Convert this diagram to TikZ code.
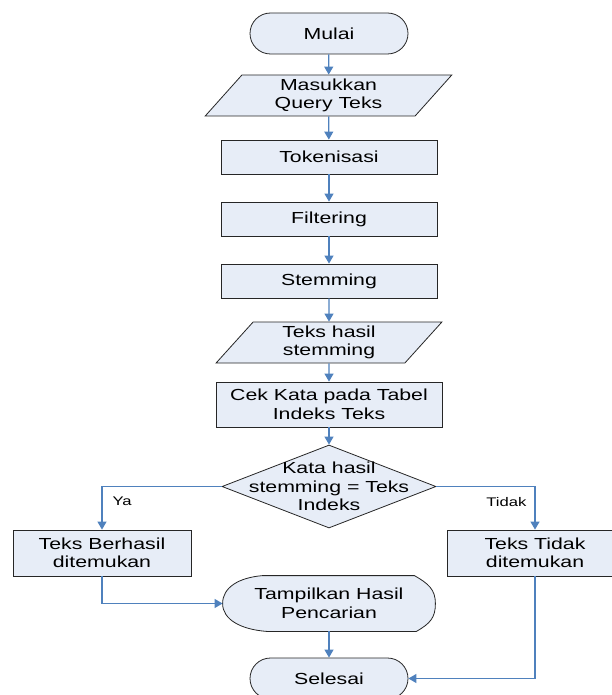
\documentclass[tikz,border=0pt]{standalone}
\usepackage{fontspec}
\setmainfont{Liberation Sans}[FakeStretch=1.33]
\usetikzlibrary{
    arrows.meta,
    shapes.geometric,
    backgrounds,
    positioning,
    calc
}
\definecolor{boxfill}{HTML}{E7EDF7}
\definecolor{flowblue}{HTML}{4F81BD}
\tikzset{%
    >={Triangle[width=9pt,length=8pt]},
    % Specifications for style of nodes:
    outline/.style = {draw=black!85, line width=0.8pt, fill=boxfill},
    base/.style = {
        outline,
        text centered, align=center, inner sep=0pt,
        font=\fontsize{16}{18.5}\selectfont
    },
    terminal/.style = {base, rectangle, rounded corners=20.5pt, minimum width=158pt, minimum height=41pt},
    process/.style = {base, rectangle, minimum width=216pt, minimum height=34pt},
    io/.style = {base, trapezium, trapezium left angle=55.7, trapezium right angle=124.3,
        trapezium stretches, minimum height=41pt},
    decision/.style = {base, diamond, minimum width=214pt, minimum height=83pt},
    link/.style = {->, draw=flowblue, line width=1.2pt},
    answer/.style = {font=\fontsize{12.5}{14}\selectfont, inner sep=0pt}
}

\begin{document}
\begin{tikzpicture}[x=1pt, y=-1pt]
    \useasboundingbox (0,0) rectangle (612,695);
    % main column
    \node[terminal] (mulai) at (329,33.5) {Mulai};
    \node[io, minimum width=247pt] (query) at (328.5,95.5) {Masukkan\\Query Teks};
    \node[process] (token) at (329,157) {Tokenisasi};
    \node[process] (filter) at (329,219) {Filtering};
    \node[process] (stem) at (329,281) {Stemming};
    \node[io, minimum width=226pt] (hasil) at (329,342.5) {Teks hasil\\stemming};
    \node[process, minimum width=226pt, minimum height=45pt] (cek) at (329,404.5) {Cek Kata pada Tabel\\Indeks Teks};
    \node[decision, label={[base, draw=none, fill=none]center:Kata hasil\\stemming = Teks\\Indeks}] (kata) at (329,486.5) {};
    % branches
    \node[process, minimum width=178pt, minimum height=46pt] (berhasil) at (102,553) {Teks Berhasil\\ditemukan};
    \node[process, minimum width=176pt, minimum height=46pt] (gagal) at (535,553) {Teks Tidak\\ditemukan};
    \node[base, draw=none, fill=none, minimum width=212pt, minimum height=55pt] (tampil) at (329,603.5) {Tampilkan Hasil\\Pencarian};
    \node[terminal] (selesai) at (329,678.5) {Selesai};
    % display shape behind its text
    \begin{scope}[on background layer]
        \draw[outline] ($(tampil.north west)+(40,0)$) -- ($(tampil.north east)+(-21,0)$)
            .. controls +(14,8) and +(0,-14) .. (tampil.east)
            .. controls +(0,14) and +(14,-8) .. ($(tampil.south east)+(-19,0)$)
            -- ($(tampil.south west)+(44,0)$)
            .. controls +(-26,-2) and +(0,16) .. (tampil.west)
            .. controls +(0,-16) and +(-24,2) .. ($(tampil.north west)+(40,0)$) -- cycle;
    \end{scope}
    % connectors
    \draw[link] (mulai) -- (query);
    \draw[link] (query) -- (token);
    \draw[link] (token) -- (filter);
    \draw[link] (filter) -- (stem);
    \draw[link] (stem) -- (hasil);
    \draw[link] (hasil) -- (cek);
    \draw[link] (cek) -- (kata);
    \draw[link] (kata.west) -| node[answer, pos=0.67, right=10pt] {Ya} (berhasil.north);
    \draw[link] (kata.east) -| node[answer, pos=0.68, left=8pt] {Tidak} (gagal.north);
    \draw[link] (berhasil.south) |- (tampil.west);
    \draw[link] (tampil.south) -- (selesai.north);
    \draw[link] (gagal.south) |- (selesai.east);
\end{tikzpicture}
\end{document}
